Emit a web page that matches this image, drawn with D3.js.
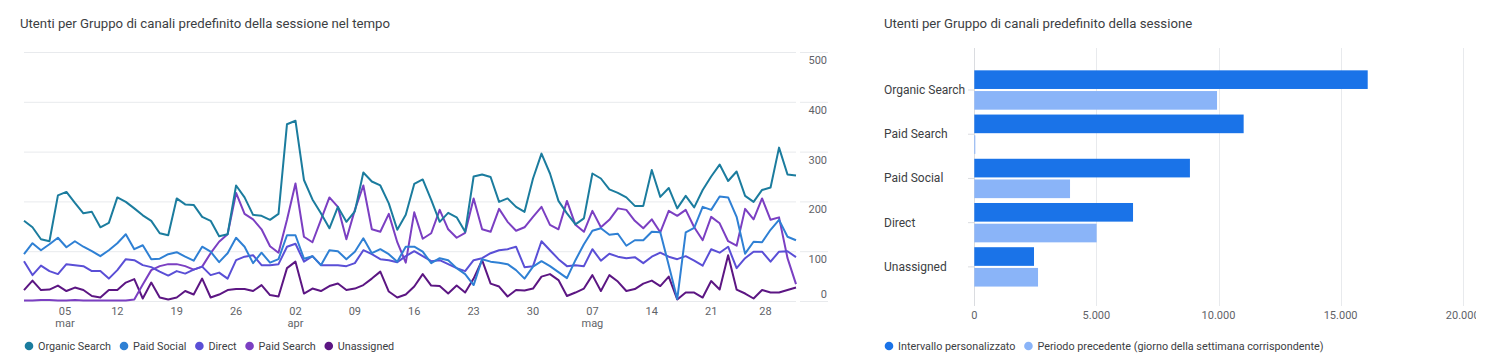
<!DOCTYPE html>
<html><head><meta charset="utf-8">
<script src="https://cdn.jsdelivr.net/npm/d3@7"></script>
<style>
html,body{margin:0;padding:0;background:#fff;}
svg{display:block;font-family:Roboto,"Noto Sans",Arial,sans-serif;}
</style></head>
<body><svg id="c" width="1502" height="363"></svg>
<script>
// ---------- DATA ----------
const startDay = "2023-03-01";
const dayCount = 92;
const seriesNames = ["Organic Search","Paid Social","Direct","Paid Search","Unassigned"];
const seriesColors = ["#1b7c9e","#2f80d4","#5a4fd6","#7b3fc2","#5c1683"];
const organicSearch = [161,148,124,120,212,219,197,176,179,148,157,208,199,186,172,161,136,132,206,
  194,193,169,161,130,134,232,208,173,171,163,175,355,362,243,204,176,146,
  189,159,180,258,240,232,196,143,173,235,244,203,159,177,168,139,250,254,249,
  199,206,189,179,246,296,256,201,176,154,166,256,246,224,217,208,191,191,
  263,209,227,186,211,188,223,250,274,241,260,211,199,223,228,308,254,252];
const paidSocial = [94,116,102,114,127,108,120,109,100,90,102,116,134,104,112,84,85,94,98,
  89,81,109,99,78,96,127,109,76,97,77,84,132,132,85,90,72,102,
  100,84,99,126,96,104,94,79,109,109,99,76,86,82,66,54,32,84,79,
  77,74,62,45,69,80,70,58,46,82,114,141,146,133,135,111,122,122,
  139,138,72,4,138,147,189,183,210,208,169,95,119,118,143,163,129,122];
const direct = [80,52,71,60,54,74,72,70,60,60,45,62,84,82,72,68,59,51,60,
  55,63,69,52,57,45,82,89,92,72,72,74,109,115,79,90,72,72,
  72,70,76,102,94,84,82,78,90,100,90,80,82,74,66,60,82,86,96,
  102,104,109,68,70,120,102,84,70,72,70,104,81,95,89,86,88,76,
  89,97,89,84,90,81,71,104,97,109,66,86,99,99,79,99,100,88];
const paidSearch = [1,1,2,2,1,1,2,1,1,1,1,1,1,3,33,62,70,74,74,
  70,63,69,96,119,134,217,175,164,144,110,97,163,236,129,118,163,208,
  189,124,183,232,144,139,175,118,77,178,125,136,183,144,127,137,206,144,139,
  185,159,141,148,169,189,153,144,201,153,139,181,148,163,186,183,161,146,
  164,138,181,171,183,148,122,169,156,120,111,185,164,206,163,168,86,34];
const unassigned = [22,41,22,23,31,20,27,22,10,7,22,22,37,44,5,37,7,3,7,
  20,13,45,7,13,22,24,24,20,32,12,9,66,79,15,25,20,30,
  35,22,25,32,45,59,19,7,13,29,54,31,30,15,31,17,45,82,35,
  29,9,22,21,25,49,54,42,10,17,25,52,20,52,39,20,24,35,
  41,30,49,3,17,17,7,40,23,92,23,15,5,22,17,17,22,27];
const yTicks = [0,100,200,300,400,500];
const xTickDates = ["2023-03-05","2023-03-12","2023-03-19","2023-03-26","2023-04-02","2023-04-09","2023-04-16","2023-04-23","2023-04-30","2023-05-07","2023-05-14","2023-05-21","2023-05-28"];
const xTickLabels = ["05","12","19","26","02","09","16","23","30","07","14","21","28"];
const monthLabels = ["mar","","","","apr","","","","","mag","","",""];

const channels = ["Organic Search","Paid Search","Paid Social","Direct","Unassigned"];
const currentPeriod = [16110,11030,8830,6500,2445];
const previousPeriod = [9940,25,3920,5010,2610];
const barTicks = [0,5000,10000,15000,20000];
const barSeriesNames = ["Intervallo personalizzato","Periodo precedente (giorno della settimana corrispondente)"];
const barColors = ["#1a73e8","#8ab4f8"];

// ---------- DRAW ----------
const svg = d3.select("#c");
const textCol = "#3c4043", axisCol = "#5f6368", gridCol = "#e8eaed";
const parse = d3.utcParse("%Y-%m-%d");
const d0 = parse(startDay);
const dates = d3.utcDay.range(d0, d3.utcDay.offset(d0, dayCount));
const allSeries = [organicSearch, paidSocial, direct, paidSearch, unassigned];

// titles
svg.append("text").attr("x",20).attr("y",27.5).attr("font-size",13.2).attr("fill",textCol)
  .text("Utenti per Gruppo di canali predefinito della sessione nel tempo");
svg.append("text").attr("x",884).attr("y",27.5).attr("font-size",13.2).attr("fill",textCol)
  .text("Utenti per Gruppo di canali predefinito della sessione");

// line chart
const x = d3.scaleUtc().domain([dates[0], dates[dates.length-1]]).range([24,796]);
const y = d3.scaleLinear().domain([0,500]).range([301,52]);
const lc = svg.append("g");
lc.selectAll("line.g1").data(yTicks).join("line")
  .attr("x1",24).attr("x2",796).attr("y1",d=>y(d)+0.5).attr("y2",d=>y(d)+0.5)
  .attr("stroke",gridCol);
lc.selectAll("line.g2").data(yTicks).join("line").attr("class","g2")
  .attr("x1",800).attr("x2",828).attr("y1",d=>y(d)+0.5).attr("y2",d=>y(d)+0.5)
  .attr("stroke",gridCol);
lc.selectAll("text.yl").data(yTicks).join("text").attr("class","yl")
  .attr("x",827).attr("text-anchor","end").attr("font-size",11).attr("fill",axisCol)
  .attr("y",d=> d===0 ? y(d)-3 : y(d)+12).text(d=>d);
const tickX = (d,i) => x(parse(d)) + (i===0 ? 7 : (i===xTickDates.length-1 ? -5 : 0));
lc.selectAll("text.xl").data(xTickDates).join("text").attr("class","xl")
  .attr("x",tickX).attr("y",315).attr("text-anchor","middle").attr("font-size",11).attr("fill",axisCol)
  .text((d,i)=>xTickLabels[i]);
lc.selectAll("text.ml").data(xTickDates).join("text").attr("class","ml")
  .attr("x",tickX).attr("y",327).attr("text-anchor","middle").attr("font-size",11).attr("fill",axisCol)
  .text((d,i)=>monthLabels[i]);
const line = d3.line().x((d,i)=>x(dates[i])).y(d=>y(d));
const order = [4,3,2,1,0];
order.forEach(k=>{
  lc.append("path").datum(allSeries[k]).attr("d",line).attr("fill","none")
    .attr("stroke",seriesColors[k]).attr("stroke-width",2).attr("stroke-linejoin","round");
});
// legends
function legend(names, colors, startX, cy){
  let cx = startX;
  names.forEach((n,i)=>{
    svg.append("circle").attr("cx",cx).attr("cy",cy).attr("r",4.3).attr("fill",colors[i]);
    const t = svg.append("text").attr("x",cx+9).attr("y",cy+4).attr("font-size",10.8).attr("fill",textCol).text(n);
    cx = cx + 9 + t.node().getComputedTextLength() + 13;
  });
}
legend(seriesNames, seriesColors, 29, 346);

// bar chart
const bc = svg.append("g");
const clip = svg.append("defs").append("clipPath").attr("id","bclip");
clip.append("rect").attr("x",860).attr("y",0).attr("width",616).attr("height",363);
bc.attr("clip-path","url(#bclip)");
const xb = d3.scaleLinear().domain([0,20000]).range([974.3,1462.7]);
const yb = d3.scaleBand().domain(channels).range([67.9,289]).paddingInner(0.11).paddingOuter(0.055);
const ys = d3.scaleBand().domain([0,1]).range([0,yb.bandwidth()]).paddingInner(0.1);
bc.selectAll("line.bg").data(barTicks).join("line")
  .attr("x1",d=>Math.round(xb(d))+0.5).attr("x2",d=>Math.round(xb(d))+0.5).attr("y1",48).attr("y2",306)
  .attr("stroke",d=>d===0?"#dadce0":gridCol);
const loc = d3.formatLocale({decimal:",",thousands:".",grouping:[3],currency:["€",""]});
const fmt = loc.format(",d");
bc.selectAll("text.bt").data(barTicks).join("text")
  .attr("x",d=>xb(d)).attr("y",319).attr("text-anchor","middle").attr("font-size",11).attr("fill",axisCol)
  .text(d=>fmt(d));
bc.selectAll("line.tk").data(channels).join("line")
  .attr("x1",968).attr("x2",974).attr("y1",d=>yb(d)+yb.bandwidth()/2).attr("y2",d=>yb(d)+yb.bandwidth()/2)
  .attr("stroke","#dadce0");
[currentPeriod, previousPeriod].forEach((vals,s)=>{
  bc.selectAll("rect.s"+s).data(channels).join("rect")
    .attr("x",xb(0)).attr("y",(d)=>yb(d)+ys(s))
    .attr("width",(d,i)=>Math.max(1,xb(vals[i])-xb(0))).attr("height",ys.bandwidth())
    .attr("fill",barColors[s]);
});
bc.selectAll("text.cl").data(channels).join("text")
  .attr("x",884).attr("y",d=>yb(d)+yb.bandwidth()/2+4).attr("font-size",12).attr("fill",textCol).text(d=>d);
legend(barSeriesNames, barColors, 889, 346);
</script></body></html>
